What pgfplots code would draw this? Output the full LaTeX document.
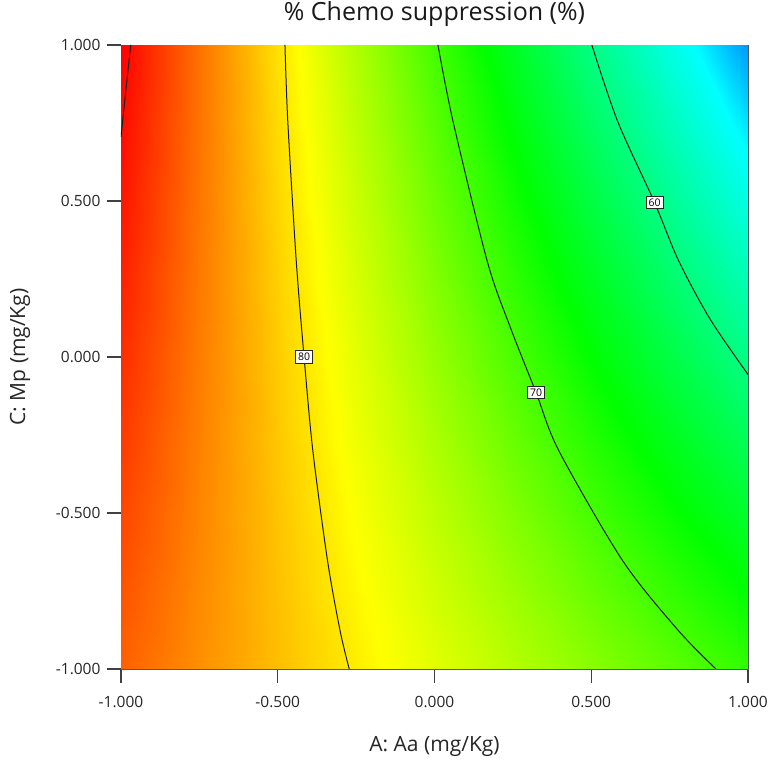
\documentclass[border=0pt]{standalone}
\usepackage{fontspec}
\setmainfont{Open Sans}
\usepackage{pgfplots}
\pgfplotsset{compat=1.18}
\begin{document}
\begin{tikzpicture}
\begin{axis}[
  at={(0pt,0pt)}, anchor=south west,
  scale only axis, width=627pt, height=624pt,
  xmin=-1, xmax=1, ymin=-1, ymax=1,
  xtick={-1,-0.5,0,0.5,1}, ytick={-1,-0.5,0,0.5,1},
  xticklabels={-1.000,-0.500,0.000,0.500,1.000},
  yticklabels={-1.000,-0.500,0.000,0.500,1.000},
  xtick pos=bottom, ytick pos=left,
  tick align=outside,
  major tick length=14pt,
  major tick style={draw=black!75, line width=1.2pt},
  axis line style={draw=black!65, line width=0.8pt},
  ticklabel style={font=\fontsize{15.5}{18}\selectfont, text=black!85},
  xticklabel style={yshift=-10pt},
  yticklabel style={xshift=-3pt},
  colormap={de}{rgb255(500)=(0,150,255); rgb255(535)=(0,255,255); rgb255(670)=(0,255,0); rgb255(790)=(255,255,0); rgb255(904)=(255,0,0)},
  point meta min=50, point meta max=90.4,
  title={\% Chemo suppression (\%)},
  title style={at={(axis description cs:0.5,1.040)}, anchor=center, font=\fontsize{25}{29}\selectfont, text=black!90},
  xlabel={A: Aa (mg/Kg)},
  xlabel style={at={(axis description cs:0.5,-0.1234)}, anchor=center, font=\fontsize{21}{24}\selectfont, text=black!85},
  ylabel={C: Mp (mg/Kg)},
  ylabel style={at={(axis description cs:-0.161,0.5)}, anchor=center, font=\fontsize{21}{24}\selectfont, text=black!85},
]
% response surface, rows of constant C (y), A (x) from -1 to 1
\addplot[surf, shader=interp, mesh/rows=9, point meta=\thisrow{z}] table {
x y z
-1 -1 86.08
-0.75 -1 83.98
-0.5 -1 81.88
-0.25 -1 79.78
0 -1 77.68
0.25 -1 75.58
0.5 -1 73.48
0.75 -1 71.38
1 -1 69.28

-1 -0.75 86.71
-0.75 -0.75 84.24
-0.5 -0.75 81.77
-0.25 -0.75 79.30
0 -0.75 76.83
0.25 -0.75 74.36
0.5 -0.75 71.89
0.75 -0.75 69.42
1 -0.75 66.96

-1 -0.5 87.31
-0.75 -0.5 84.47
-0.5 -0.5 81.63
-0.25 -0.5 78.79
0 -0.5 75.96
0.25 -0.5 73.12
0.5 -0.5 70.28
0.75 -0.5 67.44
1 -0.5 64.61

-1 -0.25 87.88
-0.75 -0.25 84.67
-0.5 -0.25 81.47
-0.25 -0.25 78.26
0 -0.25 75.06
0.25 -0.25 71.85
0.5 -0.25 68.64
0.75 -0.25 65.44
1 -0.25 62.23

-1 0 88.43
-0.75 0 84.86
-0.5 0 81.28
-0.25 0 77.71
0 0 74.13
0.25 0 70.56
0.5 0 66.98
0.75 0 63.41
1 0 59.83

-1 0.25 88.96
-0.75 0.25 85.01
-0.5 0.25 81.07
-0.25 0.25 77.12
0 0.25 73.18
0.25 0.25 69.24
0.5 0.25 65.29
0.75 0.25 61.35
1 0.25 57.41

-1 0.5 89.46
-0.75 0.5 85.14
-0.5 0.5 80.83
-0.25 0.5 76.52
0 0.5 72.21
0.25 0.5 67.89
0.5 0.5 63.58
0.75 0.5 59.27
1 0.5 54.96

-1 0.75 89.93
-0.75 0.75 85.25
-0.5 0.75 80.57
-0.25 0.75 75.89
0 0.75 71.21
0.25 0.75 66.52
0.5 0.75 61.84
0.75 0.75 57.16
1 0.75 52.48

-1 1 90.38
-0.75 1 85.33
-0.5 1 80.28
-0.25 1 75.23
0 1 70.18
0.25 1 65.13
0.5 1 60.08
0.75 1 55.03
1 1 49.98
};
% contour lines (90, 80, 70, 60)
\addplot[black!90, line width=1pt, smooth] coordinates {(-0.969,1) (-0.985,0.85) (-1,0.705)};
\addplot[black!90, line width=1pt, smooth] coordinates {(-0.477,1) (-0.468,0.756) (-0.441,0.308) (-0.416,0) (-0.388,-0.301) (-0.341,-0.654) (-0.301,-0.878) (-0.272,-1)};
\addplot[black!90, line width=1pt, smooth] coordinates {(0.011,1) (0.059,0.756) (0.168,0.308) (0.240,0.100) (0.324,-0.114) (0.397,-0.301) (0.601,-0.654) (0.779,-0.878) (0.898,-1)};
\addplot[black!90, line width=1pt, smooth] coordinates {(0.502,1) (0.584,0.756) (0.702,0.495) (0.779,0.308) (0.880,0.120) (1,-0.056)};
% contour labels
\tikzset{clab/.style={draw=black!85, line width=0.8pt, fill=white, inner sep=2.4pt, font=\fontsize{10.5}{11}\selectfont}}
\node[clab] at (axis cs:-0.416,0) {80};
\node[clab] at (axis cs:0.324,-0.114) {70};
\node[clab] at (axis cs:0.702,0.495) {60};
\end{axis}
\pgfresetboundingbox
\path (-121pt,-94pt) rectangle (648pt,669pt);
\end{tikzpicture}
\end{document}
